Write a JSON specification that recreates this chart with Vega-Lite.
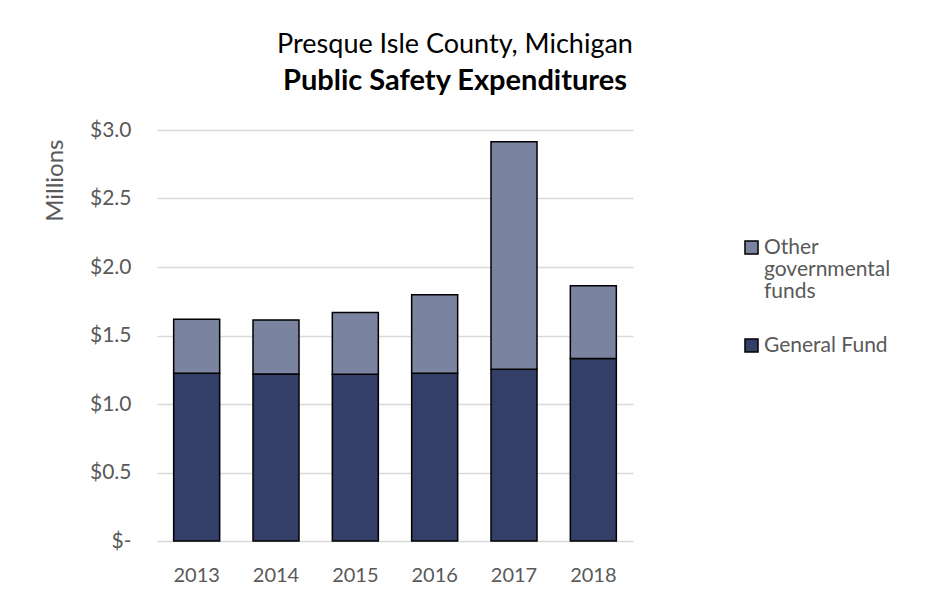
{
  "$schema": "https://vega.github.io/schema/vega-lite/v6.json",
  "width": 476,
  "height": 411,
  "autosize": "none",
  "padding": {"left": 157, "top": 130, "right": 293, "bottom": 59},
  "background": "white",
  "title": {
    "text": "Presque Isle County, Michigan",
    "subtitle": "Public Safety Expenditures",
    "anchor": "middle",
    "dx": 60,
    "offset": 22,
    "font": "Lato",
    "fontSize": 27,
    "fontWeight": "normal",
    "color": "#000000",
    "subtitleFont": "Lato",
    "subtitleFontSize": 29,
    "subtitleFontWeight": "bold",
    "subtitleColor": "#000000",
    "subtitlePadding": 8
  },
  "data": {
    "values": [
      {"year": "2013", "fund": "General Fund", "amount": 1.224},
      {"year": "2013", "fund": "Other governmental funds", "amount": 0.394},
      {"year": "2014", "fund": "General Fund", "amount": 1.219},
      {"year": "2014", "fund": "Other governmental funds", "amount": 0.394},
      {"year": "2015", "fund": "General Fund", "amount": 1.217},
      {"year": "2015", "fund": "Other governmental funds", "amount": 0.45},
      {"year": "2016", "fund": "General Fund", "amount": 1.224},
      {"year": "2016", "fund": "Other governmental funds", "amount": 0.574},
      {"year": "2017", "fund": "General Fund", "amount": 1.253},
      {"year": "2017", "fund": "Other governmental funds", "amount": 1.662},
      {"year": "2018", "fund": "General Fund", "amount": 1.333},
      {"year": "2018", "fund": "Other governmental funds", "amount": 0.531}
    ]
  },
  "mark": {"type": "bar", "stroke": "#000000", "strokeWidth": 1.5},
  "encoding": {
    "x": {
      "field": "year",
      "type": "nominal",
      "scale": {"paddingInner": 0.42, "paddingOuter": 0.21},
      "axis": {
        "title": null,
        "labelAngle": 0,
        "domain": false,
        "ticks": false,
        "tickSize": 0,
        "labelPadding": 24,
        "labelFont": "Lato",
        "labelFontSize": 20,
        "labelColor": "#595959"
      }
    },
    "y": {
      "field": "amount",
      "type": "quantitative",
      "stack": "zero",
      "scale": {"domain": [0, 3]},
      "axis": {
        "title": "Millions",
        "titleFont": "Lato",
        "titleFontSize": 24,
        "titleFontWeight": "normal",
        "titleColor": "#595959",
        "titleAnchor": "end",
        "titleX": -102,
        "titleY": 9,
        "titleAlign": "right",
        "titleBaseline": "middle",
        "values": [0, 0.5, 1, 1.5, 2, 2.5, 3],
        "labelExpr": "datum.value == 0 ? '$-\u00a0\u00a0' : '$' + format(datum.value, '.1f')",
        "domain": false,
        "ticks": false,
        "tickSize": 0,
        "labelPadding": 26,
        "labelFont": "Lato",
        "labelFontSize": 21,
        "labelColor": "#595959",
        "grid": true,
        "gridColor": "#d9d9d9",
        "gridWidth": 1.5
      }
    },
    "color": {
      "field": "fund",
      "type": "nominal",
      "scale": {
        "domain": ["Other governmental funds", "General Fund"],
        "range": ["#7a839f", "#343f67"]
      },
      "legend": {
        "title": null,
        "orient": "none",
        "legendX": 584,
        "legendY": 107,
        "symbolType": "square",
        "symbolSize": 170,
        "symbolStrokeColor": "#000000",
        "symbolStrokeWidth": 1.5,
        "labelFont": "Lato",
        "labelFontSize": 21,
        "labelColor": "#595959",
        "labelOffset": 2,
        "labelLimit": 300,
        "rowPadding": 32,
        "labelExpr": "datum.label == 'Other governmental funds' ? ['Other', 'governmental', 'funds'] : datum.label"
      }
    },
    "order": {"field": "fund", "sort": "ascending"}
  },
  "config": {
    "view": {"stroke": null},
    "style": {"guide-label": {"lineHeight": 22}}
  }
}
